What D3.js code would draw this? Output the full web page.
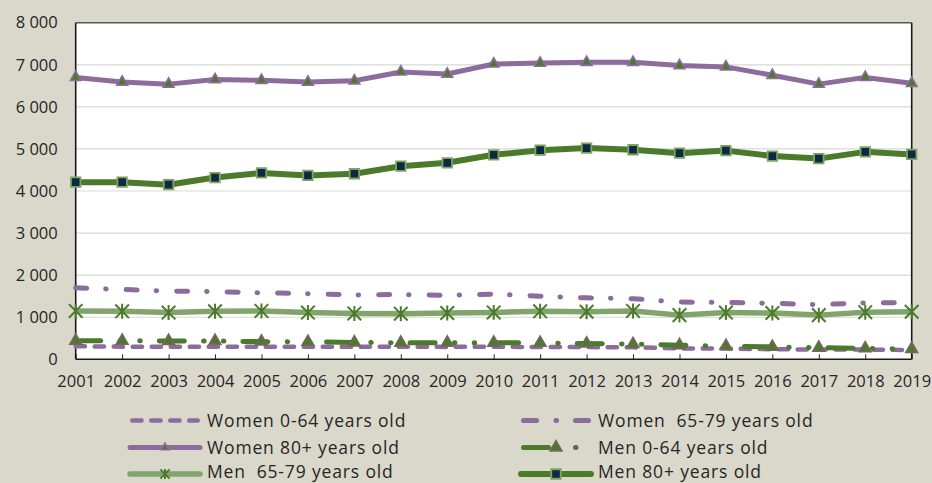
<!DOCTYPE html>
<html>
<head>
<meta charset="utf-8">
<script src="https://cdn.jsdelivr.net/npm/d3@7"></script>
<style>
  html, body { margin: 0; padding: 0; background: #d9d8cb; }
  svg { display: block; }
  text { font-family: "Open Sans", Lato, sans-serif; fill: #262626; }
</style>
</head>
<body>
<svg id="chart" width="932" height="483"></svg>
<script>
// Years on the x axis
const years = [2001, 2002, 2003, 2004, 2005, 2006, 2007, 2008, 2009, 2010,
               2011, 2012, 2013, 2014, 2015, 2016, 2017, 2018, 2019];

// Series values
const women0to64  = [310, 300, 300, 300, 300, 300, 295, 300, 295, 300, 290, 290, 285, 260, 255, 240, 230, 230, 220];
const women65to79 = [1700, 1660, 1620, 1610, 1580, 1560, 1530, 1540, 1520, 1550, 1500, 1460, 1440, 1360, 1350, 1330, 1300, 1340, 1350];
const women80plus = [6700, 6590, 6540, 6650, 6630, 6590, 6620, 6830, 6780, 7020, 7040, 7060, 7060, 6980, 6950, 6750, 6540, 6700, 6560];
const men0to64    = [440, 440, 435, 435, 420, 415, 400, 395, 395, 395, 390, 375, 360, 335, 315, 295, 275, 260, 245];
const men65to79   = [1150, 1140, 1110, 1140, 1150, 1110, 1090, 1085, 1100, 1115, 1140, 1130, 1150, 1050, 1110, 1100, 1050, 1120, 1130];
const men80plus   = [4210, 4210, 4150, 4320, 4430, 4370, 4410, 4590, 4670, 4860, 4970, 5020, 4980, 4900, 4960, 4830, 4770, 4930, 4870];

// Series names as shown in the legend
const seriesNames = [
  "Women 0-64 years old",
  "Women  65-79 years old",
  "Women 80+ years old",
  "Men 0-64 years old",
  "Men  65-79 years old",
  "Men 80+ years old"
];

// Y axis ticks
const yTicks = [0, 1000, 2000, 3000, 4000, 5000, 6000, 7000, 8000];

const purple = "#8b6c9c";
const darkGreen = "#4b7a2b";
const lightGreen = "#81a46d";
const navy = "#0c2a45";

const styles = [
  { color: purple, width: 4.5, dash: "9.3,9.7", marker: null, legendDash: "9.3,9.7" },
  { color: purple, width: 5, dash: "11,19,0.5,20", marker: null, legendDash: "13,19.5,0.5,19,13,100" },
  { color: purple, width: 5, dash: null, marker: "triangle", fill: darkGreen, stroke: purple, size: 50, legendSize: 26 },
  { color: darkGreen, width: 5, dash: "25,19.3,0.5,19.3,0.5,19", marker: "triangle", fill: darkGreen, stroke: "#75675a", size: 60, legendSize: 60, legendDash: "25,27,0.5,100" },
  { color: lightGreen, width: 5.5, dash: null, marker: "asterisk", stroke: darkGreen, half: 6.8, legendHalf: 4.6 },
  { color: darkGreen, width: 6, dash: null, marker: "square", fill: navy, stroke: "#7ea45f", size: 90, legendSize: 90 }
];

const seriesValues = [women0to64, women65to79, women80plus, men0to64, men65to79, men80plus];

const svg = d3.select("#chart");

const plot = { left: 75.7, top: 22.7, right: 911.7, bottom: 359.3 };

const x = d3.scalePoint().domain(years).range([plot.left, plot.right]).padding(0);
const y = d3.scaleLinear().domain([0, 8000]).range([plot.bottom, plot.top]);

// Plot area background
svg.append("rect")
  .attr("x", plot.left).attr("y", plot.top)
  .attr("width", plot.right - plot.left).attr("height", plot.bottom - plot.top)
  .attr("fill", "#ffffff");

// Horizontal gridlines
svg.append("g")
  .selectAll("line")
  .data(yTicks.filter(d => d > 0 && d < 8000))
  .join("line")
  .attr("x1", plot.left).attr("x2", plot.right)
  .attr("y1", d => y(d)).attr("y2", d => y(d))
  .attr("stroke", "#d9d9d2").attr("stroke-width", 1.2);

// Y axis labels
const fmt = d3.formatLocale({ decimal: ",", thousands: " ", grouping: [3], currency: ["", ""] }).format(",");
const yAxis = svg.append("g")
  .attr("transform", `translate(${plot.left},0)`)
  .call(d3.axisLeft(y).tickValues(yTicks).tickFormat(fmt).tickSize(0).tickPadding(18));
yAxis.select(".domain").remove();
yAxis.selectAll("text").style("font-size", "16.5px").attr("fill", "#262626");

// X axis with inward ticks
const xAxis = svg.append("g")
  .attr("transform", `translate(0,${plot.bottom})`)
  .call(d3.axisBottom(x).tickSize(-5).tickPadding(16));
xAxis.select(".domain").remove();
xAxis.selectAll(".tick line").attr("stroke", "#222").attr("stroke-width", 1);
xAxis.selectAll("text").style("font-size", "16.5px").attr("fill", "#262626");

// Plot frame
svg.append("line").attr("x1", plot.left).attr("x2", plot.right)
  .attr("y1", plot.top).attr("y2", plot.top).attr("stroke", "#5a5a55").attr("stroke-width", 1.6);
svg.append("line").attr("x1", plot.left).attr("x2", plot.right)
  .attr("y1", plot.bottom).attr("y2", plot.bottom).attr("stroke", "#1a1a1a").attr("stroke-width", 1.6);
svg.append("line").attr("x1", plot.left).attr("x2", plot.left)
  .attr("y1", plot.top).attr("y2", plot.bottom).attr("stroke", "#1a1a1a").attr("stroke-width", 1.6);
svg.append("line").attr("x1", plot.right).attr("x2", plot.right)
  .attr("y1", plot.top).attr("y2", plot.bottom).attr("stroke", "#1a1a1a").attr("stroke-width", 1.6);

const line = d3.line().x(d => x(d.year)).y(d => y(d.value));

function asteriskPath(h) {
  return `M${-h},${-h}L${h},${h}M${-h},${h}L${h},${-h}M0,${-h * 1.1}L0,${h * 1.1}`;
}

function drawMarker(g, st, legend) {
  if (st.marker === "triangle") {
    g.append("path")
      .attr("d", d3.symbol(d3.symbolTriangle, legend ? st.legendSize : st.size)())
      .attr("fill", st.fill).attr("stroke", st.stroke).attr("stroke-width", 1.6);
  } else if (st.marker === "square") {
    g.append("path")
      .attr("d", d3.symbol(d3.symbolSquare, legend ? st.legendSize : st.size)())
      .attr("fill", st.fill).attr("stroke", st.stroke).attr("stroke-width", 1.8);
  } else if (st.marker === "asterisk") {
    g.append("path")
      .attr("d", asteriskPath(legend ? st.legendHalf : st.half))
      .attr("fill", "none").attr("stroke", st.stroke).attr("stroke-width", 2);
  }
}

// Series lines and markers
seriesValues.forEach((vals, i) => {
  const st = styles[i];
  const data = years.map((yr, j) => ({ year: yr, value: vals[j] }));
  const g = svg.append("g");
  g.append("path")
    .datum(data)
    .attr("d", line)
    .attr("fill", "none")
    .attr("stroke", st.color)
    .attr("stroke-width", st.width)
    .attr("stroke-linecap", st.dash ? "round" : "butt")
    .attr("stroke-linejoin", "round")
    .attr("stroke-dasharray", st.dash);
  if (st.marker) {
    g.selectAll("g.m")
      .data(data)
      .join("g")
      .attr("class", "m")
      .attr("transform", d => `translate(${x(d.year)},${y(d.value)})`)
      .each(function () { drawMarker(d3.select(this), st, false); });
  }
});

// Legend: two columns, three rows
const legendCols = [{ x0: 130, x1: 200, tx: 207 }, { x0: 521, x1: 591, tx: 598 }];
const legendRows = [420.5, 447.5, 474];
const legendTextRows = [420.5, 447.5, 471.5];

seriesNames.forEach((name, i) => {
  const st = styles[i];
  const col = legendCols[i % 2];
  const row = Math.floor(i / 2);
  const ry = legendRows[row];
  const g = svg.append("g");
  const half = st.dash ? st.width / 2 : 0;
  g.append("line")
    .attr("x1", col.x0 + half).attr("x2", col.x1 - half)
    .attr("y1", ry).attr("y2", ry)
    .attr("stroke", st.color)
    .attr("stroke-width", st.width)
    .attr("stroke-linecap", "round")
    .attr("stroke-dasharray", st.legendDash || null);
  if (st.marker) {
    const mx = (col.x0 + col.x1) / 2;
    const mg = g.append("g").attr("transform", `translate(${mx},${ry})`);
    drawMarker(mg, st, true);
  }
  g.append("text")
    .attr("x", col.tx).attr("y", legendTextRows[row])
    .attr("dy", "0.35em")
    .style("font-size", "17.5px")
    .style("letter-spacing", "0.85px")
    .style("white-space", "pre")
    .text(name);
});
</script>
</body>
</html>
